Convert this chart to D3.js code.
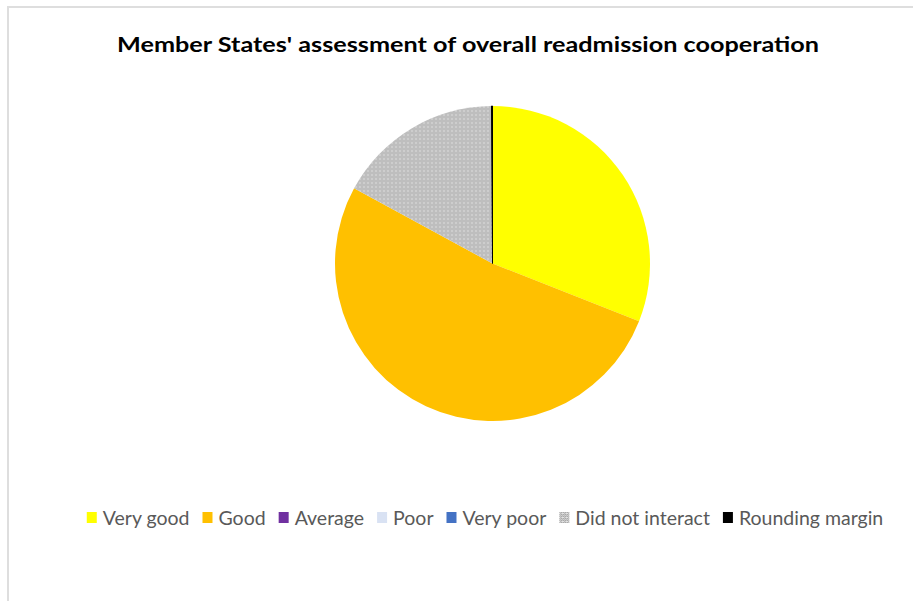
<!DOCTYPE html>
<html>
<head>
<meta charset="utf-8">
<script src="https://cdn.jsdelivr.net/npm/d3@7"></script>
<style>
  body { margin: 0; background: #fff; }
  svg { display: block; }
</style>
</head>
<body>
<div id="chart"></div>
<script>
// DATA
const categories = ["Very good", "Good", "Average", "Poor", "Very poor", "Did not interact", "Rounding margin"];
const shares = [31, 52, 0, 0, 0, 17, 0.1];
const colours = ["#ffff00", "#ffc000", "#7030a0", "#d9e2f3", "#4472c4", "url(#dots)", "#000000"];

const WIDTH = 913;
const HEIGHT = 601;
const CENTER = { X: 492.5, Y: 263.5 };
const RADIUS = 157.5;

// CANVAS
const svg = d3
  .select("#chart")
  .append("svg")
  .attr("width", WIDTH)
  .attr("height", HEIGHT);

// dotted pattern for "Did not interact"
const pat = svg
  .append("defs")
  .append("pattern")
  .attr("id", "dots")
  .attr("patternUnits", "userSpaceOnUse")
  .attr("width", 4)
  .attr("height", 4);
pat.append("rect").attr("width", 4).attr("height", 4).attr("fill", "#e2e2e2");
[[0, 0], [2, 0], [0, 2], [2, 2]].forEach(([px, py]) =>
  pat.append("rect").attr("x", px).attr("y", py).attr("width", 1).attr("height", 1).attr("fill", "#8c8c8c")
);
[[1, 1], [3, 1], [1, 3]].forEach(([px, py]) =>
  pat.append("rect").attr("x", px).attr("y", py).attr("width", 1).attr("height", 1).attr("fill", "#a8a8a8")
);

// chart area border
svg
  .append("rect")
  .attr("x", 8)
  .attr("y", 7)
  .attr("width", WIDTH)
  .attr("height", HEIGHT)
  .attr("fill", "none")
  .attr("stroke", "#dedede")
  .attr("stroke-width", 2);

// TITLE
svg
  .append("text")
  .attr("x", 468)
  .attr("y", 52)
  .attr("text-anchor", "middle")
  .attr("font-family", "Lato, 'Open Sans', sans-serif")
  .attr("font-weight", "bold")
  .attr("font-size", "21px")
  .attr("textLength", 702)
  .attr("lengthAdjust", "spacingAndGlyphs")
  .style("fill", "#000")
  .text("Member States' assessment of overall readmission cooperation");

// PIE
const pie = d3.pie().sort(null).value((d) => d.value);
const arc = d3.arc().innerRadius(0).outerRadius(RADIUS);
const slices = categories.map((c, i) => ({ name: c, value: shares[i], colour: colours[i] }));

svg
  .append("g")
  .attr("transform", `translate(${CENTER.X}, ${CENTER.Y})`)
  .selectAll("path")
  .data(pie(slices).filter((d) => d.data.value > 0))
  .enter()
  .append("path")
  .attr("d", arc)
  .attr("fill", (d) => d.data.colour)
  .attr("stroke", (d) => (d.data.name === "Rounding margin" ? "#000" : "none"))
  .attr("stroke-width", 1);

// LEGEND
const legend = svg
  .append("g")
  .attr("font-family", "Lato, 'Open Sans', sans-serif")
  .attr("font-size", "19.5px")
  .style("fill", "#595959");

let cursor = 0;
categories.forEach((c, i) => {
  const g = legend.append("g");
  g.append("rect")
    .attr("x", 0)
    .attr("y", -6)
    .attr("width", 10)
    .attr("height", 11)
    .attr("fill", colours[i]);
  const t = g.append("text").attr("x", 16).attr("y", 0).attr("dy", "0.35em").text(c);
  const w = t.node().getComputedTextLength();
  g.attr("transform", `translate(${cursor}, 0)`);
  cursor += 16 + w + 13;
});
const total = cursor - 13;
legend.attr("transform", `translate(${485 - total / 2}, 518)`);
</script>
</body>
</html>
